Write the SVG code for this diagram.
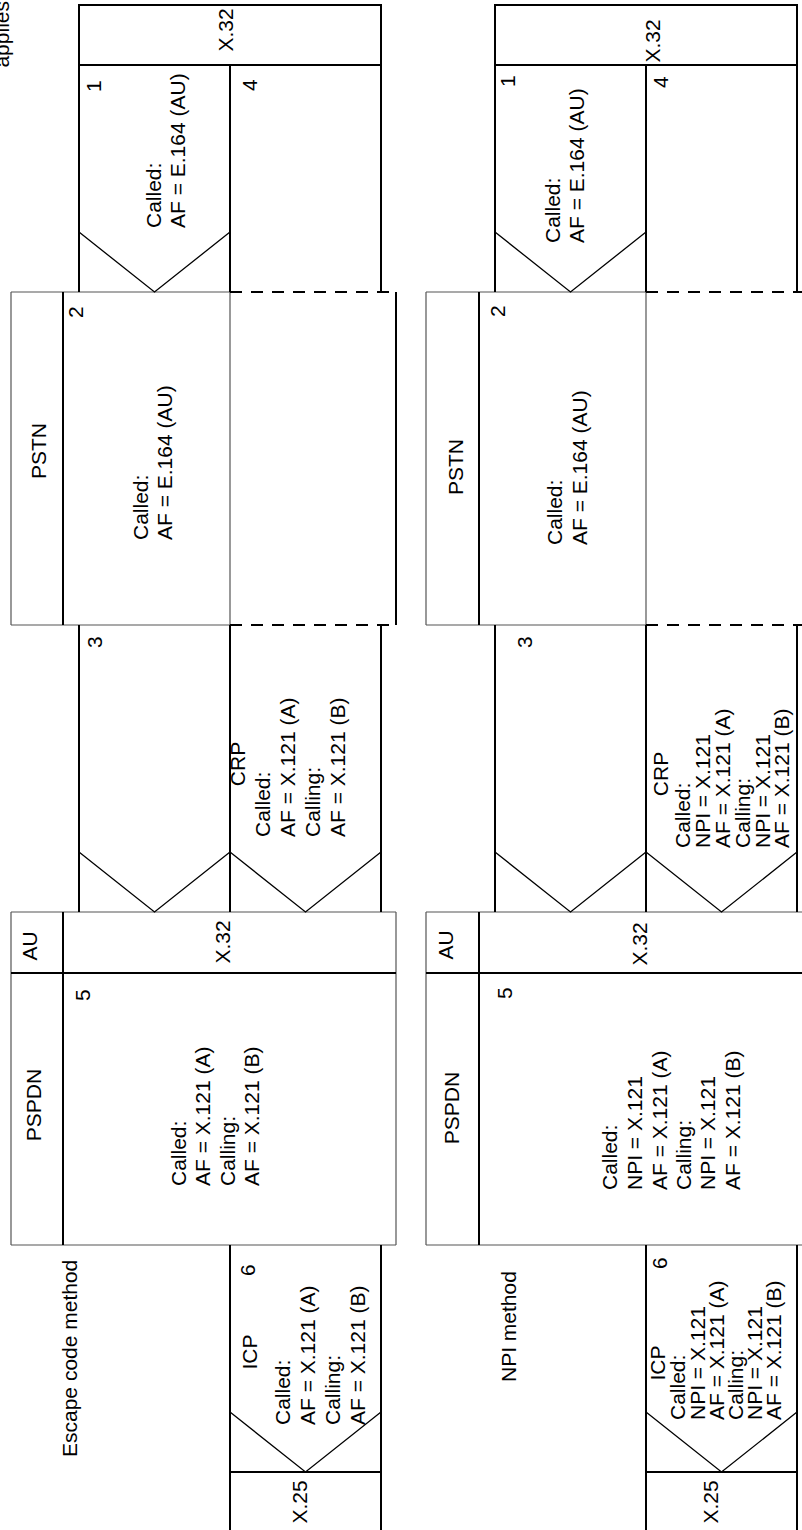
<svg xmlns="http://www.w3.org/2000/svg" width="802" height="1530" viewBox="0 0 802 1530">
<style>
.thick{stroke:#000;stroke-width:2;fill:none}
.thin{stroke:#555;stroke-width:1.2;fill:none}
.v{stroke:#000;stroke-width:1.3;fill:none}
.dash{stroke:#000;stroke-width:2;fill:none;stroke-dasharray:12 9}
text{font-family:"Liberation Sans",Arial,sans-serif;font-size:21px;fill:#000}
.m{text-anchor:middle}
.e{text-anchor:end}
</style>
<rect x="0" y="0" width="802" height="1530" fill="#fff"/>
<g transform="translate(0,1530) rotate(-90)">
<text class="e" x="1529" y="9">applies</text>
<!-- ===== Escape code method row ===== -->
<g id="escape-label"><text x="73" y="77">Escape code method</text></g>
<g id="esc-pstn">
<path class="thin" d="M905,11H1238M905,11V230M1238,11V230M905,230H1238"/>
<path class="thick" d="M905,63H1238M905,396H1238"/>
<path class="dash" d="M905,230V396M1238,230V396"/>
<text class="m" x="1079" y="46">PSTN</text>
<text x="1212" y="83">2</text>
<text x="990" y="148">Called:</text>
<text x="990" y="172">AF = E.164 (AU)</text>
</g>
<g id="esc-pspdn">
<path class="thin" d="M285,11H618M285,11V396M618,11V396M285,396H618"/>
<path class="thick" d="M285,63H618M557,11V396"/>
<text class="m" x="584" y="37">AU</text>
<text class="m" x="588" y="230">X.32</text>
<text class="m" x="425" y="41">PSPDN</text>
<text x="529" y="90">5</text>
<text x="344" y="185.5">Called:</text>
<text x="344" y="210">AF = X.121 (A)</text>
<text x="344" y="234.5">Calling:</text>
<text x="344" y="259">AF = X.121 (B)</text>
</g>
<g id="esc-x32-top">
<path class="thick" d="M1465,79H1525V381H1465Z"/>
<text class="m" x="1500" y="233">X.32</text>
</g>
<g id="esc-box1">
<path class="thick" d="M1238,79H1465M1238,230H1465M1238,381H1465"/>
<polyline class="v" points="1298,79 1238,154.5 1298,230"/>
<text x="1438" y="101">1</text>
<text x="1439" y="257">4</text>
<text x="1302" y="161">Called:</text>
<text x="1302" y="185">AF = E.164 (AU)</text>
</g>
<g id="esc-box3">
<path class="thick" d="M618,79H905M618,230H905M618,381H905"/>
<polyline class="v" points="678,79 618,154.5 678,230"/>
<polyline class="v" points="678,230 618,305.5 678,381"/>
<text x="882" y="102">3</text>
<text class="m" x="766" y="245">CRP</text>
<text x="693" y="270">Called:</text>
<text x="693" y="295">AF = X.121 (A)</text>
<text x="693" y="320">Calling:</text>
<text x="693" y="345">AF = X.121 (B)</text>
</g>
<g id="esc-icp">
<path class="thick" d="M-2,230H285M-2,381H285M58,230V381"/>
<polyline class="v" points="118,230 58,305.5 118,381"/>
<text x="254" y="255">6</text>
<text class="m" x="178" y="257">ICP</text>
<text x="105" y="290">Called:</text>
<text x="105" y="315">AF = X.121 (A)</text>
<text x="105" y="340">Calling:</text>
<text x="105" y="365">AF = X.121 (B)</text>
<text class="m" x="28" y="307">X.25</text>
</g>
<!-- ===== NPI method row ===== -->
<g id="npi-label"><text x="148" y="516">NPI method</text></g>
<g id="npi-pstn">
<path class="thin" d="M905,426H1238M905,426V646M1238,426V646M905,646H1238"/>
<path class="thick" d="M905,479H1238M905,811H1238"/>
<path class="dash" d="M905,646V811M1238,646V811"/>
<text class="m" x="1063" y="463">PSTN</text>
<text x="1213" y="505">2</text>
<text x="985" y="562">Called:</text>
<text x="985" y="587">AF = E.164 (AU)</text>
</g>
<g id="npi-pspdn">
<path class="thin" d="M285,426H618M285,426V811M618,426V811M285,811H618"/>
<path class="thick" d="M285,479H618M557,426V811"/>
<text class="m" x="585" y="453">AU</text>
<text class="m" x="586" y="647">X.32</text>
<text class="m" x="422" y="459">PSPDN</text>
<text x="531" y="512">5</text>
<text x="340" y="617">Called:</text>
<text x="340" y="642">NPI = X.121</text>
<text x="340" y="667">AF = X.121 (A)</text>
<text x="340" y="691">Calling:</text>
<text x="340" y="715">NPI = X.121</text>
<text x="340" y="740">AF = X.121 (B)</text>
</g>
<g id="npi-x32-top">
<path class="thick" d="M1465,495H1525V797H1465Z"/>
<text class="m" x="1489" y="660">X.32</text>
</g>
<g id="npi-box1">
<path class="thick" d="M1238,495H1465M1238,646H1465M1238,797H1465"/>
<polyline class="v" points="1298,495 1238,570.5 1298,646"/>
<text x="1443" y="515">1</text>
<text x="1442" y="668">4</text>
<text x="1287" y="560">Called:</text>
<text x="1287" y="584">AF = E.164 (AU)</text>
</g>
<g id="npi-box3">
<path class="thick" d="M618,495H905M618,646H905M618,797H905"/>
<polyline class="v" points="678,495 618,570.5 678,646"/>
<polyline class="v" points="678,646 618,721.5 678,797"/>
<text x="882" y="532">3</text>
<text class="m" x="756" y="668">CRP</text>
<text x="682" y="690">Called:</text>
<text x="682" y="710">NPI = X.121</text>
<text x="682" y="730">AF = X.121 (A)</text>
<text x="682" y="750">Calling:</text>
<text x="682" y="770">NPI = X.121</text>
<text x="682" y="789">AF = X.121 (B)</text>
</g>
<g id="npi-icp">
<path class="thick" d="M-2,646H285M-2,797H285M58,646V797"/>
<polyline class="v" points="118,646 58,721.5 118,797"/>
<text x="261" y="667">6</text>
<text class="m" x="167" y="665">ICP</text>
<text x="110" y="685">Called:</text>
<text x="110" y="705">NPI = X.121</text>
<text x="110" y="724">AF = X.121 (A)</text>
<text x="110" y="743">Calling:</text>
<text x="110" y="762">NPI = X.121</text>
<text x="110" y="781">AF = X.121 (B)</text>
<text class="m" x="28" y="718">X.25</text>
</g>
<g id="connectors"></g>
</g>
</svg>
